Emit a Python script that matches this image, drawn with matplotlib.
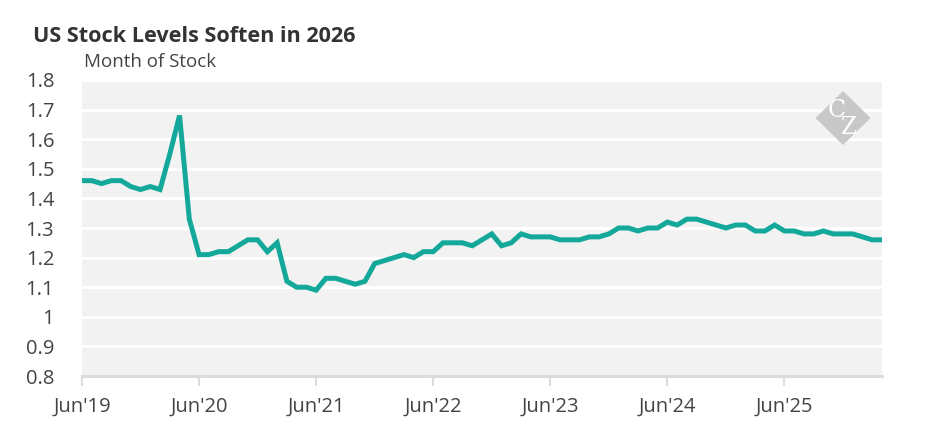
import numpy as np
import pandas as pd
import matplotlib
matplotlib.use("Agg")
import matplotlib.pyplot as plt
from matplotlib.patches import Polygon

plt.rcParams['font.family'] = ['Open Sans', 'DejaVu Sans']

# ------------------------------------------------------------
# Data: monthly US months-of-stock, Jun 2019 .. Apr 2026
# ------------------------------------------------------------
start_month = "2019-06"
months_of_stock = [
    1.46, 1.46, 1.45, 1.46, 1.46, 1.44, 1.43,                          # 2019 Jun-Dec
    1.44, 1.43, 1.55, 1.68, 1.33, 1.21, 1.21, 1.22, 1.22, 1.24, 1.26, 1.26,  # 2020
    1.22, 1.25, 1.12, 1.10, 1.10, 1.09, 1.13, 1.13, 1.12, 1.11, 1.12, 1.18,  # 2021
    1.19, 1.20, 1.21, 1.20, 1.22, 1.22, 1.25, 1.25, 1.25, 1.24, 1.26, 1.28,  # 2022
    1.24, 1.25, 1.28, 1.27, 1.27, 1.27, 1.26, 1.26, 1.26, 1.27, 1.27, 1.28,  # 2023
    1.30, 1.30, 1.29, 1.30, 1.30, 1.32, 1.31, 1.33, 1.33, 1.32, 1.31, 1.30,  # 2024
    1.31, 1.31, 1.29, 1.29, 1.31, 1.29, 1.29, 1.28, 1.28, 1.29, 1.28, 1.28,  # 2025
    1.28, 1.27, 1.26, 1.26,                                                  # 2026 Jan-Apr
]
tick_labels = ["Jun'19", "Jun'20", "Jun'21", "Jun'22", "Jun'23", "Jun'24", "Jun'25"]
y_ticks = [0.8, 0.9, 1.0, 1.1, 1.2, 1.3, 1.4, 1.5, 1.6, 1.7, 1.8]
y_tick_labels = ["0.8", "0.9", "1", "1.1", "1.2", "1.3", "1.4", "1.5", "1.6", "1.7", "1.8"]

dates = pd.period_range(start_month, periods=len(months_of_stock), freq="M")
x = np.arange(len(dates))
tick_pos = [i for i, d in enumerate(dates) if d.month == 6]

# ------------------------------------------------------------
# Figure
# ------------------------------------------------------------
W, H = 945, 443
fig = plt.figure(figsize=(W / 100, H / 100), dpi=100)
left, right, top, bottom = 82, 882, 80, 376
ax = fig.add_axes([left / W, 1 - bottom / H, (right - left) / W, (bottom - top) / H])

ax.set_facecolor("#F2F2F2")
ax.set_xlim(0, len(x) - 1)
ax.set_ylim(0.8, 1.8)
ax.set_yticks(y_ticks)
ax.set_yticklabels(y_tick_labels)
ax.grid(axis="y", color="white", linewidth=2.2)
ax.set_axisbelow(True)

ax.plot(x, months_of_stock, color="#13A89A", linewidth=3.6,
        solid_joinstyle="miter", solid_capstyle="butt", zorder=3, clip_on=False)

ax.set_xticks(tick_pos)
ax.set_xticklabels(tick_labels)

for side in ["top", "right", "left"]:
    ax.spines[side].set_visible(False)
ax.spines["bottom"].set_color("#DCDCDC")
ax.spines["bottom"].set_linewidth(2.2)

ax.tick_params(axis="y", length=0, pad=20, labelsize=14.5, labelcolor="#444444")
ax.tick_params(axis="x", length=7, width=1.5, color="#DCDCDC", pad=8,
               labelsize=14.5, labelcolor="#444444")

# titles
fig.text(33 / W, 1 - 37 / H, "US Stock Levels Soften in 2026", fontsize=15.6,
         fontweight="bold", color="#333333", ha="left", va="center")
fig.text(84 / W, 1 - 62 / H, "Month of Stock", fontsize=13.5,
         color="#444444", ha="left", va="center")

# watermark
cx, cy, rx, ry = 843, 118, 27.5, 27
diamond = Polygon([((cx) / W, 1 - (cy - ry) / H), ((cx + rx) / W, 1 - cy / H),
                   (cx / W, 1 - (cy + ry) / H), ((cx - rx) / W, 1 - cy / H)],
                  closed=True, transform=fig.transFigure, facecolor="#C8C8C8",
                  edgecolor="none", zorder=5)
fig.patches.append(diamond)
fig.text(cx / W, 1 - (cy + 1) / H, "C\u2002\n\u2002Z", fontsize=17,
         family="DejaVu Serif", color="white", ha="center", va="center",
         multialignment="center", linespacing=0.62, zorder=6)

fig.savefig("out.png", dpi=100, facecolor="white")
